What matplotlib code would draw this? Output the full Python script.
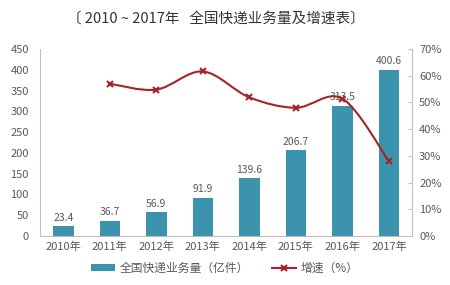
import numpy as np
import matplotlib.pyplot as plt
from matplotlib.path import Path
from matplotlib.patches import PathPatch
from matplotlib.lines import Line2D
from matplotlib.patches import Patch

plt.rcParams['font.family'] = ['Noto Sans CJK SC', 'DejaVu Sans']

years = ["2010年", "2011年", "2012年", "2013年", "2014年", "2015年", "2016年", "2017年"]
volume = [23.4, 36.7, 56.9, 91.9, 139.6, 206.7, 313.5, 400.6]
growth = [57.0, 54.8, 61.6, 51.9, 48.0, 51.4, 28.0]  # 2011-2017

bar_color = "#3b93ad"
line_color = "#a8222a"
text_color = "#595959"
axis_color = "#bfbfbf"

fig = plt.figure(figsize=(4.5, 2.85), dpi=100)
ax = fig.add_axes([0.089, 0.172, 0.827, 0.656])
x = np.arange(len(years))
ax.bar(x, volume, width=0.44, color=bar_color, zorder=2)
for xi, v in zip(x, volume):
    ax.text(xi, v + 8, f"{v:.1f}", ha="center", va="bottom", fontsize=7.5, color=text_color)

ax.set_xlim(-0.5, len(years) - 0.5)
ax.set_ylim(0, 450)
ax.set_yticks(range(0, 451, 50))
ax.set_xticks(x)
ax.set_xticklabels(years)
ax.tick_params(axis="both", labelsize=8, colors=text_color, length=0, pad=4)
ax.tick_params(axis="y", pad=8)
for s in ["top", "right"]:
    ax.spines[s].set_visible(False)
for s in ["left", "bottom"]:
    ax.spines[s].set_color(axis_color)
    ax.spines[s].set_linewidth(0.8)

ax2 = ax.twinx()
ax2.set_ylim(0, 70)
ax2.set_yticks(range(0, 71, 10))
ax2.set_yticklabels([f"{t}%" for t in range(0, 71, 10)])
ax2.tick_params(axis="y", labelsize=8, colors=text_color, direction="in", length=3, pad=5)
ax2.tick_params(axis="y", color=axis_color)
for s in ["top", "left", "bottom"]:
    ax2.spines[s].set_visible(False)
ax2.spines["right"].set_color(axis_color)
ax2.spines["right"].set_linewidth(0.8)

# smoothed line through the data points (Catmull-Rom -> Bezier)
gx = x[1:].astype(float)
gy = np.array(growth, dtype=float)
pts = np.column_stack([gx, gy])
verts = [pts[0]]
codes = [Path.MOVETO]
n = len(pts)
for i in range(n - 1):
    p0 = pts[i - 1] if i > 0 else pts[i]
    p1 = pts[i]
    p2 = pts[i + 1]
    p3 = pts[i + 2] if i + 2 < n else pts[i + 1]
    c1 = p1 + (p2 - p0) / 6.0
    c2 = p2 - (p3 - p1) / 6.0
    verts += [c1, c2, p2]
    codes += [Path.CURVE4] * 3
ax2.add_patch(PathPatch(Path(verts, codes), facecolor="none", edgecolor=line_color, lw=1.5, zorder=3))
ax2.plot(gx, gy, linestyle="none", marker="x", color=line_color, ms=5, mew=1.5, zorder=4)

fig.text(0.48, 0.935, "〔 2010 ~ 2017年   全国快递业务量及增速表〕", ha="center", va="center",
         fontsize=10.5, color="#333333")

handles = [Patch(facecolor=bar_color, label="全国快递业务量（亿件）"),
           Line2D([0], [0], color=line_color, marker="x", lw=1.5, ms=5, mew=1.5, label="增速（%）")]
fig.legend(handles=handles, loc="center", bbox_to_anchor=(0.5, 0.06), ncol=2, frameon=False,
           fontsize=8.5, labelcolor=text_color, handlelength=2.0, handleheight=0.5,
           handletextpad=0.4, columnspacing=2.0)

fig.savefig("out.png", dpi=100)
